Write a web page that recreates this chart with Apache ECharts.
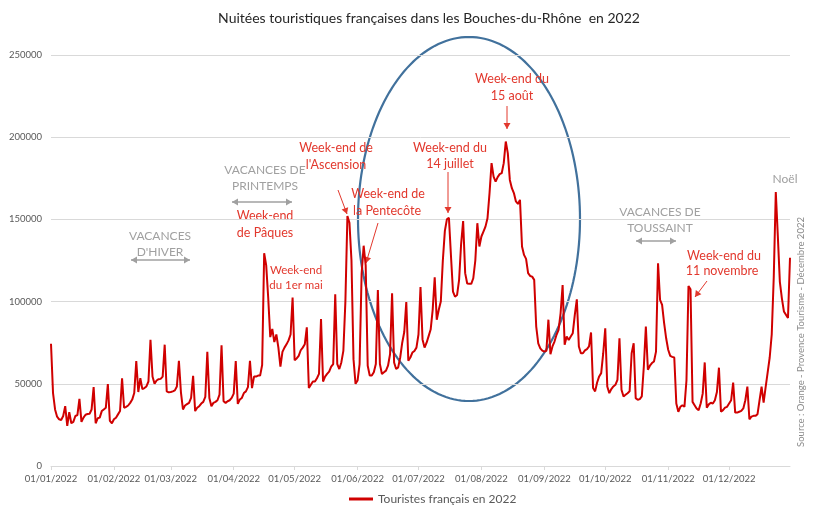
<!DOCTYPE html>
<html>
<head>
<meta charset="utf-8">
<title>Nuitées touristiques françaises - Bouches-du-Rhône 2022</title>
<script src="https://cdn.jsdelivr.net/npm/echarts@6/dist/echarts.min.js"></script>
<style>
  html, body { margin: 0; padding: 0; background: #fff; }
  #chart { width: 813px; height: 512px; }
</style>
</head>
<body>
<div id="chart"></div>
<script>
// nuitées journalières, un tableau par mois
const jan = [74400, 44400, 34400, 30000, 28400, 28000, 30400, 36400, 24400, 32800, 26000, 26800, 30400, 31000, 40800, 26800,
  29400, 31200, 31600, 31800, 34400, 48000, 26000, 29000, 29400, 33400, 34400, 35400, 49800, 27400, 26000]
const feb = [28400, 29400, 31400, 33400, 53400, 35400, 36000, 36800, 38400, 40400, 44400, 63800, 45000, 53400, 46800, 47400,
  48400, 51400, 76800, 54400, 50000, 52000, 52800, 53000, 54400, 73800, 45400, 44800]
const mar = [45000, 45400, 46000, 48400, 64000, 44800, 34400, 36800, 37600, 38400, 41400, 54800, 33400, 35400, 36400, 38000,
  39000, 42000, 69400, 41400, 36400, 38400, 39000, 40000, 43400, 73400, 39400, 38400, 39400, 40000, 41400]
const apr = [44000, 63800, 37800, 40400, 41400, 44400, 45400, 48000, 64000, 47400, 54400, 54400, 55000, 55000, 61400, 129400,
  122000, 102000, 78400, 83400, 75400, 80000, 72000, 60400, 69400, 72000, 74000, 76400, 80000, 102400]
const may = [64400, 65400, 67000, 70400, 72000, 74000, 84400, 47400, 49400, 51400, 51400, 53400, 56000, 89400, 51400, 54400,
  56000, 57400, 60400, 62000, 104400, 62000, 59000, 63000, 70000, 100000, 152000, 148000, 125000, 65000, 50000]
const jun = [52000, 62000, 117000, 134000, 122000, 61000, 55000, 55000, 57000, 62000, 107000, 62000, 56000, 57000, 58000, 61000,
  68000, 105000, 63000, 59000, 60000, 66000, 75000, 81500, 99700, 64000, 66000, 69000, 70000, 72000]
const jul = [80000, 108800, 77000, 72000, 75000, 79000, 83000, 95000, 114800, 89000, 95000, 100000, 125000, 143000, 150000, 151000,
  128000, 106000, 103000, 104000, 113000, 135000, 149000, 117300, 111000, 110800, 110800, 114200, 125000, 147700, 133500]
const aug = [139600, 142600, 145600, 150700, 166000, 184200, 176000, 173000, 175700, 177500, 178100, 184200, 197400, 190300, 174000, 169000,
  166000, 160900, 159400, 161900, 133500, 128400, 126000, 117300, 115600, 115200, 113200, 84800, 74600, 71600, 70200]
const sep = [69600, 70000, 89000, 68000, 72700, 75700, 79800, 82800, 92900, 110100, 73700, 78800, 76700, 78800, 80800, 91900,
  101400, 72700, 68600, 68600, 70300, 71100, 72700, 81200, 47400, 45400, 50800, 54500, 56500, 68600]
const oct = [83800, 48400, 44300, 46800, 48400, 49400, 52400, 77700, 46400, 42300, 43300, 44300, 45400, 68600, 74700, 41300,
  40300, 40700, 42300, 60500, 84800, 58500, 61000, 62600, 63600, 69600, 123300, 101000, 98000, 86900, 77700]
const nov = [70700, 67000, 66400, 66000, 38000, 33000, 36000, 37000, 36000, 52000, 109500, 107500, 39000, 37000, 35000, 34000,
  38000, 44000, 63000, 35500, 37500, 38500, 38000, 40000, 45000, 59800, 33000, 34000, 35500, 36000]
const dec = [38000, 40000, 50700, 32500, 32500, 33000, 33500, 35000, 40000, 48300, 28400, 30000, 30500, 30500, 31500, 40000,
  48300, 38600, 48000, 57000, 66000, 80000, 115000, 166600, 140000, 112000, 102000, 94000, 92000, 90000, 126700]

const yTicks = [0, 50000, 100000, 150000, 200000, 250000]

const values = [].concat(jan, feb, mar, apr, may, jun, jul, aug, sep, oct, nov, dec)

// libellés jj/mm/aaaa pour chaque jour
const pad = (n) => (n < 10 ? '0' + n : '' + n)
const days = values.map((v, i) => {
  const d = new Date(Date.UTC(2022, 0, 1 + i))
  return pad(d.getUTCDate()) + '/' + pad(d.getUTCMonth() + 1) + '/' + d.getUTCFullYear()
})
const isMonthStart = (index, value) => value.slice(0, 2) === '01'

const RED = '#e2382d'
const GREY = '#a0a0a0'
const FONT = 'Lato, "Open Sans", sans-serif'

// petites aides pour les annotations
function txt(x, y, text, color, size) {
  return {
    type: 'text', x: x, y: y, silent: true,
    style: {
      text: text, fill: color, font: (size || 12.5) + 'px ' + FONT,
      align: 'center', verticalAlign: 'middle', textAlign: 'center', textVerticalAlign: 'middle'
    }
  }
}
function head(x1, y1, x2, y2, color) {
  const a = Math.atan2(y2 - y1, x2 - x1)
  const l = 6, w = 3.5
  const bx = x2 - l * Math.cos(a), by = y2 - l * Math.sin(a)
  return {
    type: 'polygon', silent: true,
    shape: { points: [[x2, y2], [bx + w * Math.sin(a), by - w * Math.cos(a)], [bx - w * Math.sin(a), by + w * Math.cos(a)]] },
    style: { fill: color }
  }
}
function arrow(x1, y1, x2, y2, color) {
  return [
    { type: 'line', silent: true, shape: { x1: x1, y1: y1, x2: x2, y2: y2 }, style: { stroke: color, lineWidth: 1 } },
    head(x1, y1, x2, y2, color)
  ]
}
function dblArrow(x1, x2, y, color) {
  return [
    { type: 'line', silent: true, shape: { x1: x1, y1: y, x2: x2, y2: y }, style: { stroke: color, lineWidth: 1.5 } },
    head(x2, y, x1, y, color),
    head(x1, y, x2, y, color)
  ]
}
function ellipse(cx, cy, rx, ry) {
  const pts = []
  for (let i = 0; i < 180; i++) {
    const t = (i / 180) * Math.PI * 2
    pts.push([cx + rx * Math.cos(t), cy + ry * Math.sin(t)])
  }
  return { type: 'polygon', silent: true, shape: { points: pts }, style: { fill: 'none', stroke: '#41719c', lineWidth: 2.2 } }
}

const annotations = [].concat(
  ellipse(469, 219, 111, 182),
  txt(160, 236, 'VACANCES', GREY, 12), txt(160, 252, "D'HIVER", GREY, 12), dblArrow(131, 190, 260, GREY),
  txt(265, 170, 'VACANCES DE', GREY, 12), txt(265, 186, 'PRINTEMPS', GREY, 12), dblArrow(232, 292, 202, GREY),
  txt(265, 216, 'Week-end', RED), txt(265, 233, 'de Pâques', RED),
  txt(296, 270, 'Week-end', RED, 11.5), txt(296, 285, 'du 1er mai', RED, 11.5),
  txt(336, 148, 'Week-end de', RED), txt(336, 165, "l'Ascension", RED), arrow(338, 190, 347, 214, RED),
  txt(388, 194, 'Week-end de', RED), txt(387, 211, 'la Pentecôte', RED), arrow(378, 223, 366, 263, RED),
  txt(450, 148, 'Week-end du', RED), txt(450, 164, '14 juillet', RED), arrow(448, 172, 448, 213, RED),
  txt(512, 79, 'Week-end du', RED), txt(512, 96, '15 août', RED), arrow(507, 106, 507, 129, RED),
  txt(660, 212, 'VACANCES DE', GREY, 12), txt(660, 228, 'TOUSSAINT', GREY, 12), dblArrow(636, 676, 241, GREY),
  txt(724, 256, 'Week-end du', RED), txt(722, 271, '11 novembre', RED), arrow(707, 281, 695, 297, RED),
  txt(785, 179, 'Noël', GREY, 12),
  {
    type: 'text', x: 801, y: 332, rotation: Math.PI / 2, silent: true,
    style: {
      text: 'Source : Orange - Provence Tourisme - Décembre 2022', fill: '#8c8c8c', font: '9.5px ' + FONT,
      align: 'center', verticalAlign: 'middle', textAlign: 'center', textVerticalAlign: 'middle'
    }
  }
)

const chart = echarts.init(document.getElementById('chart'), null, { renderer: 'canvas' })
chart.setOption({
  animation: false,
  backgroundColor: '#ffffff',
  textStyle: { fontFamily: FONT },
  title: {
    text: 'Nuitées touristiques françaises dans les Bouches-du-Rhône  en 2022',
    left: 424, top: 6, textAlign: 'center',
    textStyle: { fontSize: 14, fontWeight: 'normal', color: '#262626', fontFamily: FONT }
  },
  legend: {
    bottom: 2, left: 344, icon: 'rect', itemWidth: 24, itemHeight: 3, itemGap: 4,
    textStyle: { fontSize: 12, color: '#595959' },
    data: ['Touristes français en 2022']
  },
  grid: { left: 51, right: 23, top: 55, bottom: 46 },
  xAxis: {
    type: 'category',
    data: days,
    boundaryGap: false,
    axisLine: { lineStyle: { color: '#d9d9d9' } },
    axisTick: { show: true, interval: isMonthStart, length: 4, lineStyle: { color: '#d9d9d9' } },
    axisLabel: { interval: isMonthStart, color: '#595959', fontSize: 9.5, margin: 8 }
  },
  yAxis: {
    type: 'value',
    min: yTicks[0], max: yTicks[yTicks.length - 1], interval: 50000,
    axisLine: { show: false },
    axisTick: { show: false },
    axisLabel: { color: '#595959', fontSize: 9.5, margin: 9, formatter: (v) => String(v) },
    splitLine: { lineStyle: { color: '#d9d9d9', width: 1 } }
  },
  series: [
    {
      name: 'Touristes français en 2022',
      type: 'line',
      data: values,
      symbol: 'none',
      lineStyle: { color: '#d00000', width: 2 },
      itemStyle: { color: '#d00000' }
    }
  ],
  graphic: annotations
})
</script>
</body>
</html>
